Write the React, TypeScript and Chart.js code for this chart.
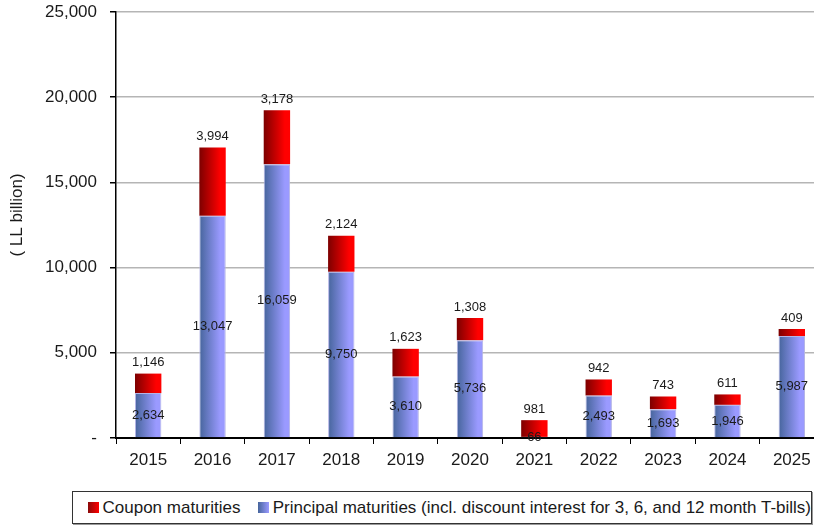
import React, { useEffect, useRef } from "react";
import { Chart, registerables } from "chart.js";

Chart.register(...registerables);

const years = ["2015", "2016", "2017", "2018", "2019", "2020", "2021", "2022", "2023", "2024", "2025"];
const couponMaturities = [1146, 3994, 3178, 2124, 1623, 1308, 981, 942, 743, 611, 409];
const principalMaturities = [2634, 13047, 16059, 9750, 3610, 5736, 66, 2493, 1693, 1946, 5987];
const yTickValues = [0, 5000, 10000, 15000, 20000, 25000];

const FONT = "'Liberation Sans', Arial, Helvetica, sans-serif";
const BAR_FRACTION = 0.41;

function barGradient(ctx: any, from: string, to: string) {
  const chart = ctx.chart;
  if (!chart.chartArea || ctx.dataIndex === undefined) return to;
  const xs = chart.scales.x;
  const cx = xs.getPixelForValue(ctx.dataIndex);
  const w = (xs.width / years.length) * BAR_FRACTION;
  const g = chart.ctx.createLinearGradient(cx - w / 2, 0, cx + w / 2, 0);
  g.addColorStop(0, from);
  g.addColorStop(0.8, to);
  g.addColorStop(1, to);
  return g;
}

const fmt = (v: number) => v.toLocaleString("en-US");

const labelPlugin = {
  id: "barLabels",
  afterDatasetsDraw(chart: any) {
    const c = chart.ctx;
    c.save();
    c.font = `13px ${FONT}`;
    c.fillStyle = "#1a1a1a";
    c.textAlign = "center";
    c.textBaseline = "middle";
    const pMeta = chart.getDatasetMeta(0);
    const cMeta = chart.getDatasetMeta(1);
    pMeta.data.forEach((el: any, i: number) => {
      c.fillText(fmt(principalMaturities[i]), el.x, (el.y + el.base) / 2);
    });
    cMeta.data.forEach((el: any, i: number) => {
      c.fillText(fmt(couponMaturities[i]), el.x, el.y - 11);
    });
    // y axis title
    c.save();
    c.font = `17px ${FONT}`;
    c.fillStyle = "#1a1a1a";
    c.translate(17, 215);
    c.rotate(-Math.PI / 2);
    c.fillText("( LL billion)", 0, 0);
    c.restore();
    c.restore();
  },
};

export default function App() {
  const ref = useRef<HTMLCanvasElement>(null);
  useEffect(() => {
    if (!ref.current) return;
    const chart = new Chart(ref.current, {
      type: "bar",
      data: {
        labels: years,
        datasets: [
          {
            label: "Principal maturities (incl. discount interest for 3, 6, and 12 month T-bills)",
            data: principalMaturities,
            backgroundColor: (ctx: any) => barGradient(ctx, "#46659c", "#9a9aff"),
            borderColor: "#b4b4e6",
            borderWidth: 1,
            borderSkipped: "bottom",
            categoryPercentage: 1,
            barPercentage: BAR_FRACTION,
          },
          {
            label: "Coupon maturities",
            data: couponMaturities,
            backgroundColor: (ctx: any) => barGradient(ctx, "#7d0000", "#ff0000"),
            borderWidth: 0,
            categoryPercentage: 1,
            barPercentage: BAR_FRACTION,
          },
        ],
      },
      options: {
        responsive: false,
        animation: false,
        layout: { padding: { top: 12, right: 16, left: 0, bottom: 0 } },
        plugins: {
          legend: { display: false },
          tooltip: { enabled: false },
        },
        scales: {
          x: {
            stacked: true,
            offset: true,
            grid: {
              offset: true,
              drawOnChartArea: false,
              drawTicks: true,
              tickLength: 6,
              tickColor: "#000",
            },
            border: { display: true, color: "#000", width: 2 },
            ticks: {
              color: "#1a1a1a",
              font: { family: FONT, size: 17 },
              padding: 6,
              maxRotation: 0,
            },
            afterFit: (s: any) => {
              s.height = 52;
              s.paddingLeft = 0;
              s.paddingRight = 0;
            },
          },
          y: {
            stacked: true,
            min: 0,
            max: 25000,
            afterBuildTicks: (s: any) => {
              s.ticks = yTickValues.map((v) => ({ value: v }));
            },
            grid: {
              color: "#b5b5b5",
              lineWidth: 1.5,
              tickLength: 6,
              tickColor: "#000",
            },
            border: { display: true, color: "#000", width: 1.5 },
            ticks: {
              color: "#1a1a1a",
              font: { family: FONT, size: 17 },
              padding: 13,
              callback: (v: any) => (Number(v) === 0 ? "-" : fmt(Number(v))),
            },
            afterFit: (s: any) => {
              s.width = 116;
              s.paddingTop = 0;
              s.paddingBottom = 0;
            },
          },
        },
      },
      plugins: [labelPlugin],
    });
    return () => chart.destroy();
  }, []);

  const swatch = (from: string, to: string) => ({
    display: "inline-block",
    width: 11,
    height: 11,
    background: `linear-gradient(to right, ${from}, ${to})`,
    marginRight: 4,
    flex: "0 0 auto",
  });

  return (
    <div
      style={{
        position: "absolute",
        left: 0,
        top: 0,
        width: 814,
        height: 525,
        overflow: "hidden",
        background: "#fff",
        fontFamily: FONT,
      }}
    >
      <canvas ref={ref} width={840} height={490} style={{ display: "block" }} />
      <div
        style={{
          position: "absolute",
          left: 72,
          top: 491,
          width: 738,
          height: 31,
          border: "1px solid #333",
          boxShadow: "1px 1px 0 #999",
          display: "flex",
          alignItems: "center",
          fontSize: 17,
          color: "#1a1a1a",
          whiteSpace: "nowrap",
          boxSizing: "content-box",
        }}
      >
        <span style={{ width: 16 }} />
        <span style={swatch("#8a0a0a", "#ff0000")} />
        <span>Coupon maturities</span>
        <span style={{ width: 19 }} />
        <span style={swatch("#46659c", "#9a9aff")} />
        <span>Principal maturities (incl. discount interest for 3, 6, and 12 month T-bills)</span>
      </div>
    </div>
  );
}
